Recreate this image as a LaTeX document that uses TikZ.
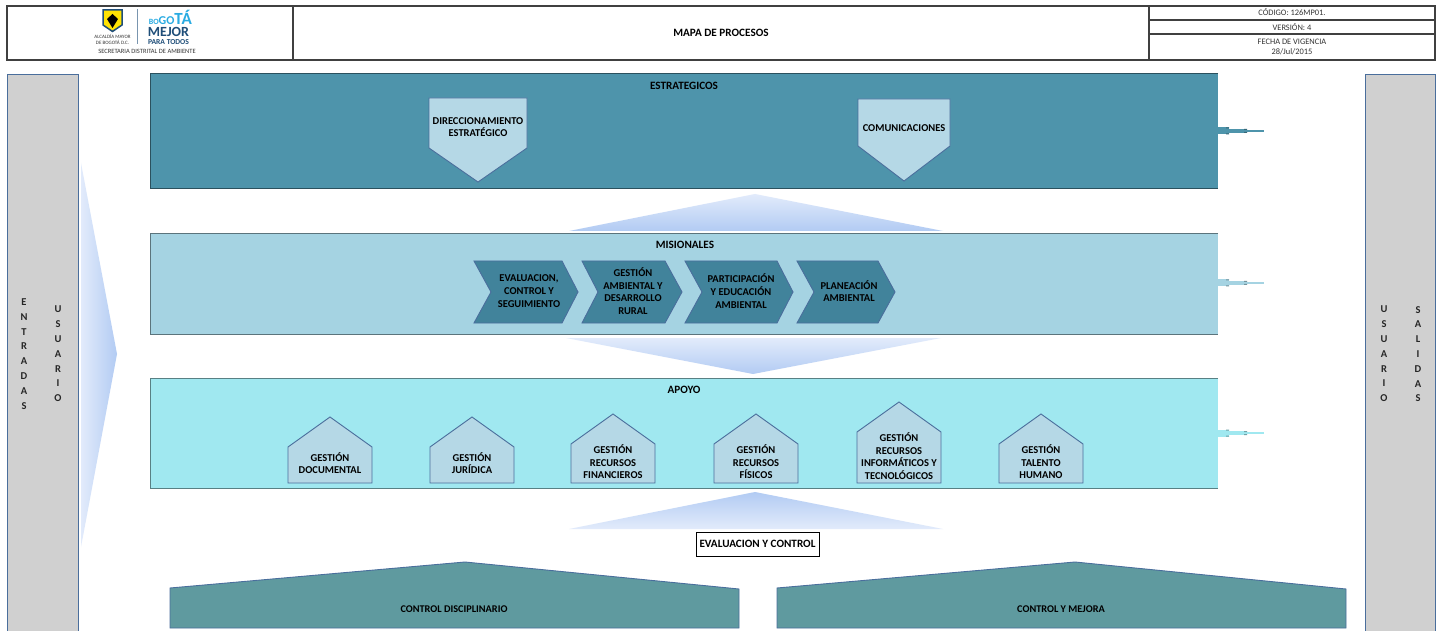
\documentclass[tikz,border=0pt]{standalone}
\usepackage{fontspec}
\setmainfont{Carlito}
\definecolor{estra}{HTML}{4E94AB}
\definecolor{misi}{HTML}{A5D3E2}
\definecolor{apoyo}{HTML}{A0E8F0}
\definecolor{chev}{HTML}{41839B}
\definecolor{casa}{HTML}{B5D8E6}
\definecolor{ctrl}{HTML}{5F9A9F}
\definecolor{gris}{HTML}{D0D0D0}
\definecolor{borde}{HTML}{4A6E9C}
\definecolor{marco}{HTML}{404040}
\definecolor{flechaA}{HTML}{E2EBFB}
\definecolor{flechaB}{HTML}{B2CBF3}
\definecolor{azulB}{HTML}{29ABE2}
\definecolor{azulM}{HTML}{1F4E79}
\tikzset{
  lab/.style={font=\fontsize{10.5}{12.6}\selectfont\bfseries,align=center,text=black,inner sep=0pt},
  titulo/.style={font=\fontsize{11.2}{13}\selectfont\bfseries,align=center,text=black,inner sep=0pt},
  tiny/.style={font=\fontsize{8.4}{10}\selectfont,align=center,text=black!80,inner sep=0pt},
  vert/.style={font=\fontsize{10.5}{14.8}\selectfont\bfseries,align=center,text=black!85,inner sep=0pt},
  panel/.style={draw=#1!55!black,line width=1pt},
  lateral/.style={draw=borde,line width=1pt,fill=gris},
  forma/.style={draw=borde,line width=0.9pt,fill=#1},
  marcoL/.style={draw=marco,line width=1.6pt}
}
\begin{document}
\begin{tikzpicture}[x=1pt,y=-1pt]
  \useasboundingbox (0,0) rectangle (1441,631);
  \fill[white] (0,0) rectangle (1441,631);

  % encabezado
  \draw[marcoL] (7,6) rectangle (1435,60);
  \draw[marcoL] (293,6) -- (293,60) (1149,6) -- (1149,60);
  \draw[marcoL] (1149,20) -- (1435,20) (1149,34) -- (1435,34);
  \draw (721,33) node[titulo] (mapa) {MAPA DE PROCESOS};
  \draw (1292,12) node[tiny] (codigo) {CÓDIGO: 126MP01.};
  \draw (1292,27) node[tiny] (version) {VERSIÓN: 4};
  \draw (1292,46.5) node[tiny] (fecha) {FECHA DE VIGENCIA\\28/Jul/2015};

  % logo
  \draw[fill=yellow!85!orange,draw=azulM,line width=1.5pt] (103,10) -- (122,10) -- (122,25) -- (112.5,31.5) -- (103,25) -- cycle;
  \fill[black] (112.5,14) -- (118,19) -- (112.5,28) -- (107,19) -- cycle;
  \draw[azulM!60,line width=0.6pt] (137,9) -- (137,44);
  \draw (112.5,39.5) node[font=\fontsize{5}{5.2}\selectfont,align=center,inner sep=0pt,text=black!80] (alcaldia) {ALCALDÍA MAYOR\\DE BOGOTÁ D.C.};
  \draw (192,24.5) node[anchor=base east,inner sep=0pt,text=azulB] (bogota) {\fontsize{8}{8}\selectfont\bfseries BO\fontsize{12}{12}\selectfont GO\fontsize{17}{17}\selectfont TÁ};
  \draw (168.5,32) node[inner sep=0pt,text=azulM,font=\fontsize{14}{14}\selectfont\bfseries] (mejor) {MEJOR};
  \draw (168.5,42) node[inner sep=0pt,text=azulM,font=\fontsize{7.6}{7.6}\selectfont\bfseries] (todos) {PARA TODOS};
  \draw (147,51) node[font=\fontsize{6.5}{6.5}\selectfont,text=black!80,inner sep=0pt] (secretaria) {SECRETARIA DISTRITAL DE AMBIENTE};

  % laterales
  \draw[lateral] (7,74.5) rectangle (78,633);
  \draw[lateral] (1365,74.5) rectangle (1435,633);
  \draw (24,354) node[vert] (entradas) {E\\N\\T\\R\\A\\D\\A\\S};
  \draw (58,354) node[vert] (usuarioA) {U\\S\\U\\A\\R\\I\\O};
  \draw (1384,354) node[vert] (usuarioB) {U\\S\\U\\A\\R\\I\\O};
  \draw (1418,354) node[vert] (salidas) {S\\A\\L\\I\\D\\A\\S};

  % flechas grandes
  \shade[left color=flechaA,right color=flechaB] (81,163) -- (117,354) -- (81,547) -- cycle;
  \shade[top color=flechaA,bottom color=flechaB] (569,231) -- (755,194) -- (943,231) -- cycle;
  \shade[top color=flechaA,bottom color=flechaB] (566,338) -- (941,338) -- (753,374) -- cycle;
  \shade[top color=flechaB,bottom color=flechaA] (569,529) -- (755,492) -- (943,529) -- cycle;

  % salidas de los paneles
  \foreach \yy/\cc in {131/estra,283/misi,433/apoyo}{
    \fill[\cc] (1218,\yy-3.5) rectangle (1229,\yy+3.5);
    \fill[\cc] (1229,\yy-2) rectangle (1247,\yy+2);
    \fill[\cc] (1247,\yy-0.7) rectangle (1264,\yy+0.7);
    \fill[\cc!70!black] (1226,\yy-3.5) rectangle (1229,\yy-2.5) (1226,\yy+2.5) rectangle (1229,\yy+3.5);
    \fill[\cc!70!black] (1244,\yy-2) rectangle (1247,\yy-1) (1244,\yy+1) rectangle (1247,\yy+2);
  }

  % paneles
  \fill[estra] (150,74) rectangle (1218,189);
  \fill[misi] (150,234) rectangle (1218,334);
  \fill[apoyo] (150,378) rectangle (1218,488);
  \draw[panel=estra] (1218,74) -- (150,74) -- (150,189) -- (1218,189);
  \draw[panel=misi] (1218,234) -- (150,234) -- (150,334) -- (1218,334);
  \draw[panel=apoyo] (1218,378) -- (150,378) -- (150,488) -- (1218,488);
  \draw (684,86) node[titulo] (estrategicos) {ESTRATEGICOS};
  \draw (685,245) node[titulo] (misionales) {MISIONALES};
  \draw (684,390) node[titulo] (apoyoT) {APOYO};

  % estrategicos
  \draw[forma=casa] (429,98) -- (527,98) -- (527,148) -- (478,182) -- (429,148) -- cycle;
  \draw[forma=casa] (858,99) -- (950,99) -- (950,146) -- (904,181) -- (858,146) -- cycle;
  \draw (478,127) node[lab] (direcc) {DIRECCIONAMIENTO\\ESTRATÉGICO};
  \draw (904,128) node[lab] (comu) {COMUNICACIONES};

  % misionales
  \draw[forma=chev] (474,261) -- (562,261) -- (578,292) -- (562,323) -- (474,323) -- (491,292) -- cycle;
  \draw[forma=chev] (582,261) -- (665,261) -- (682,292) -- (665,323) -- (582,323) -- (598,292) -- cycle;
  \draw[forma=chev] (685,261) -- (777,261) -- (793,292) -- (777,323) -- (685,323) -- (702,292) -- cycle;
  \draw[forma=chev] (797,261) -- (878,261) -- (895,292) -- (878,323) -- (797,323) -- (814,292) -- cycle;
  \draw (529,291) node[lab] (evalua) {EVALUACION,\\CONTROL Y\\SEGUIMIENTO};
  \draw (633,291) node[lab] (gestamb) {GESTIÓN\\AMBIENTAL Y\\DESARROLLO\\RURAL};
  \draw (741,291) node[lab] (partic) {PARTICIPACIÓN\\Y EDUCACIÓN\\AMBIENTAL};
  \draw (849,291) node[lab] (planea) {PLANEACIÓN\\AMBIENTAL};

  % apoyo
  \foreach \xx/\yy in {288/417,430/417,571/414,714/414,857/402,999/414}{
    \draw[forma=casa] (\xx,483) -- (\xx+84,483) -- (\xx+84,\yy+30) -- (\xx+42,\yy) -- (\xx,\yy+30) -- cycle;
  }
  \draw (330,463) node[lab] (gdoc) {GESTIÓN\\DOCUMENTAL};
  \draw (472,463) node[lab] (gjur) {GESTIÓN\\JURÍDICA};
  \draw (613,462) node[lab] (gfin) {GESTIÓN\\RECURSOS\\FINANCIEROS};
  \draw (756,462) node[lab] (gfis) {GESTIÓN\\RECURSOS\\FÍSICOS};
  \draw (899,456) node[lab] (ginf) {GESTIÓN\\RECURSOS\\INFORMÁTICOS Y\\TECNOLÓGICOS};
  \draw (1041,462) node[lab] (gtal) {GESTIÓN\\TALENTO\\HUMANO};

  % control
  \draw (757.5,544) node[titulo,draw=black,line width=0.8pt,fill=white,minimum width=123pt,minimum height=24pt] (evalctrl) {EVALUACION Y CONTROL};
  \draw[forma=ctrl] (170,588) -- (465,562) -- (739,589) -- (739,628) -- (170,628) -- cycle;
  \draw[forma=ctrl] (777,588) -- (1075,562) -- (1346,589) -- (1346,628) -- (777,628) -- cycle;
  \draw (454,609) node[lab,font=\fontsize{10.3}{12}\selectfont\bfseries] (cdisc) {CONTROL DISCIPLINARIO};
  \draw (1061,609) node[lab,font=\fontsize{10.3}{12}\selectfont\bfseries] (cmej) {CONTROL Y MEJORA};
\end{tikzpicture}
\end{document}
